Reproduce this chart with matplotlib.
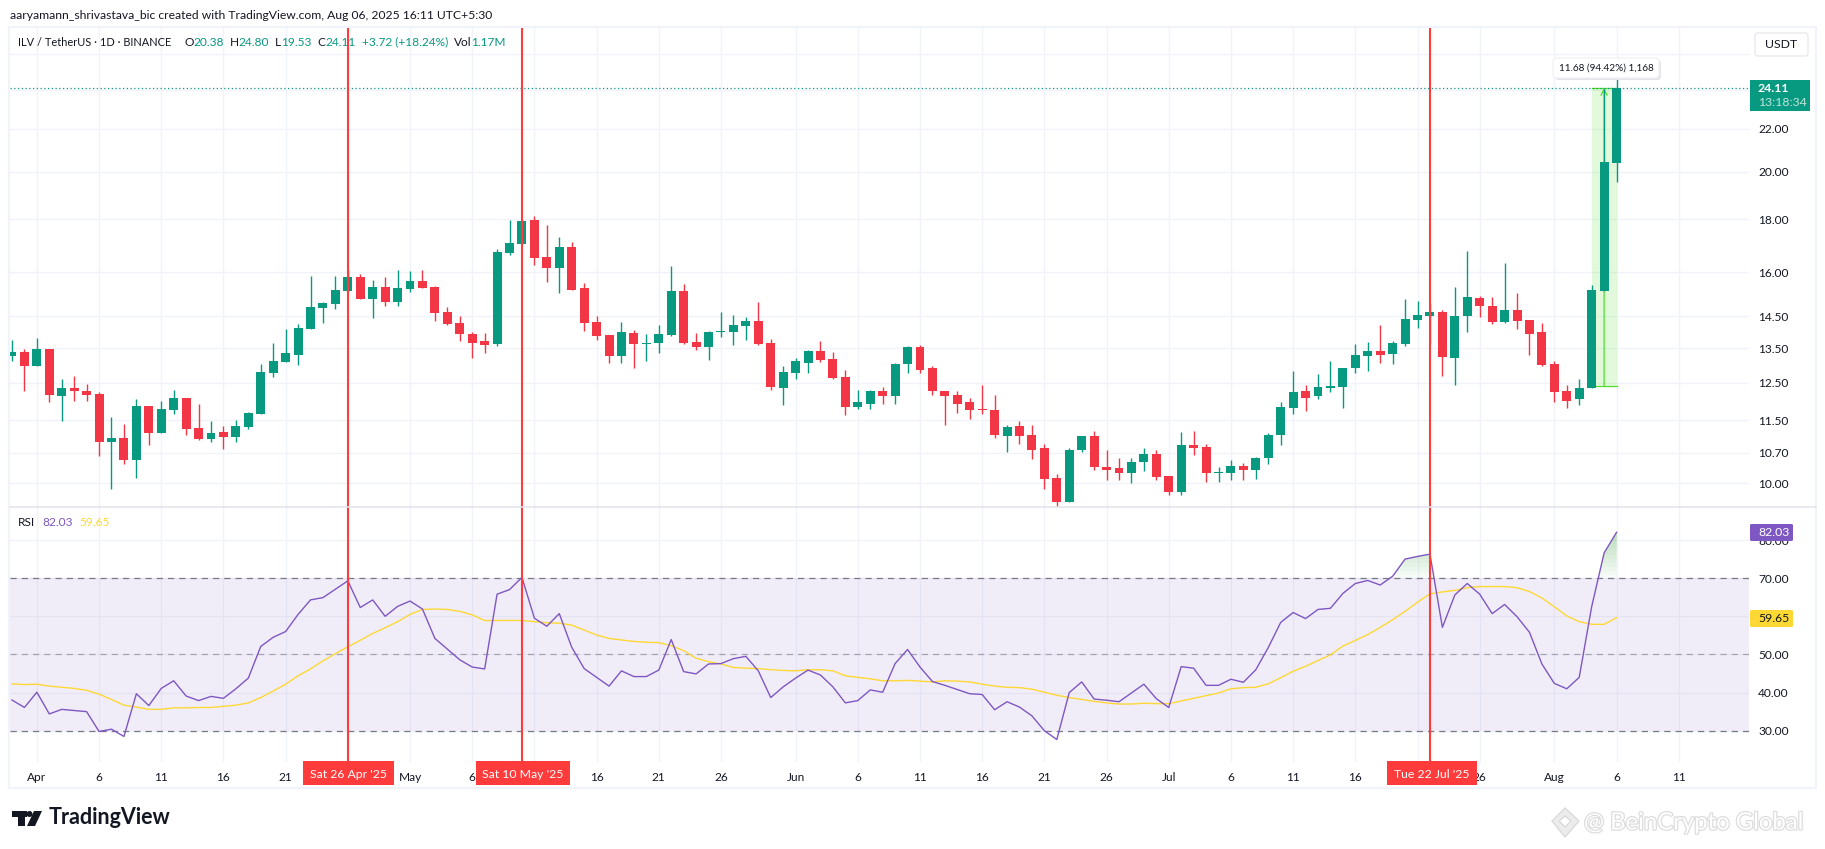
import matplotlib
matplotlib.use('Agg')
import matplotlib.pyplot as plt
import matplotlib.patheffects as pe
from matplotlib.patches import Rectangle, FancyBboxPatch, Polygon, Circle
from matplotlib.ticker import NullLocator
import numpy as np

plt.rcParams['font.family'] = ['Lato', 'DejaVu Sans']

# daily candles, 30 Mar to 6 Aug 2025
opens = [13.28,13.40,12.97,13.48,12.13,12.35,12.29,12.21,10.97,11.07,
         10.54,11.87,11.19,11.78,12.10,11.31,11.04,11.21,11.09,11.34,
         11.67,12.77,13.11,13.31,14.11,14.77,14.90,15.33,15.82,15.07,
         15.47,14.97,15.40,15.68,15.47,14.63,14.30,13.95,13.73,13.63,
         16.70,17.02,17.96,16.53,16.15,16.90,15.43,14.33,13.92,13.28,
         13.98,13.64,13.67,13.92,15.33,13.70,13.54,14.01,14.01,14.20,
         14.35,13.67,12.37,12.78,13.08,13.42,13.20,12.68,11.86,11.94,
         12.27,12.13,13.03,13.54,12.91,12.27,12.16,11.97,11.81,11.78,
         11.12,11.36,11.14,10.81,10.12,9.60,10.76,11.10,10.38,10.34,
         10.24,10.48,10.68,10.17,9.80,10.88,10.85,10.24,10.24,10.40,
         10.29,10.57,11.14,11.83,12.27,12.13,12.35,12.40,12.91,13.28,
         13.42,13.34,13.64,14.38,14.51,14.65,13.22,14.51,15.09,14.85,
         14.32,14.72,14.38,14.01,13.05,12.27,12.05,12.37,15.33,20.38]
highs = [13.76,13.48,13.82,13.48,12.60,12.71,12.48,12.24,11.58,11.41,
         12.07,11.87,12.02,12.32,12.10,11.93,11.48,11.36,11.50,11.72,
         13.05,13.66,14.11,14.24,15.85,14.96,15.87,16.07,15.93,15.72,
         15.82,16.07,16.03,16.07,15.50,14.80,14.50,14.00,13.98,16.85,
         17.96,18.00,18.12,17.75,17.28,17.10,15.60,14.50,13.92,14.32,
         14.07,13.95,14.23,16.20,15.57,13.98,14.04,14.65,14.55,14.48,
         14.96,13.79,12.97,13.22,13.45,13.73,13.40,12.88,12.32,12.32,
         12.40,13.08,13.57,13.60,12.97,12.27,12.27,12.08,12.45,12.16,
         11.39,11.48,11.39,10.92,10.22,10.81,11.10,11.24,10.76,10.59,
         10.57,10.81,10.78,10.17,11.20,11.24,10.92,10.36,10.54,10.47,
         10.61,11.19,11.97,12.85,12.45,12.74,13.12,12.93,13.63,13.70,
         14.22,13.73,15.06,14.99,14.92,14.72,15.46,16.77,15.16,15.12,
         16.31,15.26,14.38,14.29,13.14,12.45,12.60,15.53,24.05,24.80]
lows = [13.14,12.27,12.97,11.97,11.48,12.02,12.02,10.63,9.87,10.45,
        10.12,10.88,11.19,11.67,11.14,11.00,10.97,10.80,10.95,11.29,
        11.67,12.68,13.11,13.00,14.11,14.30,14.74,15.33,15.07,14.46,
        14.85,14.85,15.30,15.43,14.35,14.22,13.72,13.22,13.37,13.57,
        16.63,17.02,16.26,15.65,15.27,15.38,14.03,13.75,13.08,13.08,
        12.91,13.14,13.37,13.89,13.64,13.45,13.17,13.86,13.60,13.76,
        13.60,12.32,11.89,12.60,12.78,13.11,12.60,11.65,11.80,11.80,
        11.94,11.94,12.78,12.78,12.16,11.39,11.70,11.54,11.67,11.07,
        10.73,10.92,10.55,9.87,9.49,9.60,10.71,10.31,10.08,10.08,
        10.01,10.27,10.08,9.74,9.74,10.64,10.03,10.03,10.08,10.08,
        10.10,10.45,10.90,11.67,11.75,12.05,12.24,11.83,12.77,12.85,
        13.08,13.05,13.58,14.14,13.63,12.71,12.45,14.00,14.48,14.26,
        14.29,14.08,13.31,12.97,11.97,11.83,11.89,12.35,15.33,19.53]
closes = [13.40,12.97,13.48,12.16,12.35,12.27,12.18,10.97,11.07,10.54,
          11.87,11.19,11.79,12.10,11.29,11.04,11.19,11.09,11.36,11.70,
          12.80,13.14,13.37,14.14,14.80,14.93,15.37,15.82,15.07,15.47,
          14.97,15.43,15.68,15.43,14.60,14.26,13.95,13.66,13.60,16.73,
          17.05,17.92,16.49,16.15,16.90,15.38,14.30,13.87,13.28,14.01,
          13.64,13.67,13.95,15.33,13.67,13.54,14.01,14.04,14.23,14.35,
          13.64,12.40,12.80,13.14,13.42,13.17,12.65,11.86,11.97,12.27,
          12.13,13.05,13.54,12.88,12.29,12.13,11.94,11.78,11.78,11.14,
          11.34,11.12,10.78,10.10,9.60,10.76,11.10,10.36,10.31,10.24,
          10.48,10.68,10.15,9.80,10.88,10.81,10.24,10.26,10.40,10.29,
          10.59,11.14,11.86,12.24,12.08,12.40,12.42,12.93,13.31,13.42,
          13.31,13.67,14.42,14.55,14.65,13.25,14.51,15.12,14.82,14.32,
          14.72,14.35,13.95,13.02,12.24,12.02,12.37,15.36,20.43,24.11]

rsi = [38.05,36.1,40.1,34.4,35.6,35.3,35.0,29.8,30.4,28.5,
       39.7,36.6,41.1,43.1,39.1,37.9,39.0,38.5,41.0,43.8,
       52.1,54.5,56.0,60.5,64.3,64.9,67.1,69.3,62.3,64.3,
       60.0,62.6,64.0,61.9,54.2,51.4,48.6,46.7,46.2,65.8,
       67.0,70.2,59.5,57.4,60.7,51.9,46.3,44.0,41.7,45.7,
       44.2,44.2,45.9,53.9,45.5,44.9,47.5,47.6,48.9,49.5,
       45.7,38.7,41.5,43.8,45.9,44.6,41.5,37.3,37.9,40.7,
       40.1,47.6,51.3,46.7,42.9,41.9,40.8,39.7,39.5,35.5,
       37.6,36.2,33.9,30.0,27.7,40.0,42.8,38.3,38.0,37.6,
       39.9,42.2,38.4,36.1,46.8,46.4,41.9,41.9,43.5,42.7,
       46.0,51.8,58.4,61.0,59.4,61.8,62.1,66.0,68.6,69.4,
       68.2,70.5,75.0,75.7,76.3,57.1,65.6,68.6,65.8,60.7,
       63.1,59.9,55.8,47.5,42.4,41.0,44.0,62.5,76.6,82.03]
rsi_ma = [42.3,42.1,42.2,41.7,41.4,41.1,40.6,39.6,38.2,36.7,
          36.2,35.6,35.6,36.0,36.0,36.1,36.1,36.4,36.7,37.3,
          38.7,40.4,42.2,44.4,46.2,48.3,50.2,52.0,53.7,55.5,
          57.0,58.6,60.5,61.8,61.9,61.8,61.3,60.4,58.9,58.9,
          58.9,58.9,58.6,58.3,58.2,57.7,56.4,55.1,54.2,53.8,
          53.4,53.2,53.1,52.3,51.0,49.0,48.1,47.5,46.6,46.4,
          46.3,46.0,45.8,45.7,46.0,46.0,45.7,44.4,44.0,43.6,
          43.1,43.1,43.2,43.0,42.8,43.1,43.0,42.8,42.2,41.7,
          41.4,41.3,40.9,40.1,39.3,38.7,38.2,37.7,37.3,37.0,
          37.0,37.2,37.1,37.1,37.8,38.5,39.2,39.9,41.0,41.3,
          41.4,42.3,43.9,45.6,46.9,48.4,49.9,52.2,53.7,55.2,
          57.1,59.1,61.3,63.7,65.9,66.4,66.8,67.5,67.8,67.8,
          67.8,67.5,66.5,64.8,62.5,60.1,58.6,57.9,57.9,59.65]

# 24 and 26 sit behind the price boxes, so they only get a grid line
price_ticks = [10.0,10.7,11.5,12.5,13.5,14.5,16.0,18.0,20.0,22.0,24.0,26.0]
price_labels = ['10.00','10.70','11.50','12.50','13.50','14.50','16.00','18.00','20.00','22.00','','']
rsi_ticks = [30,40,50,60,70,80]
rsi_labels = ['30.00','40.00','50.00','','70.00','80.00']
# candle index of each label on the time axis, blank where a date flag covers it
time_pos = [2,7,12,17,22,27,32,37,42,47,52,57,63,68,73,78,83,88,93,98,103,108,113,118,124,129,134]
time_labels = ['Apr','6','11','16','21','','May','6','','16','21','26','Jun','6','11','16',
               '21','26','Jul','6','11','16','','26','Aug','6','11']
event_pos = [27,41,114]
event_labels = ["Sat 26 Apr '25","Sat 10 May '25","Tue 22 Jul '25"]
last_price = 24.11
measure_low = 12.43

GREEN = '#089981'
RED = '#F23645'
MARK = '#FF3B3B'
PURPLE = '#7E57C2'
YELLOW = '#FDD835'
GRID = '#F0F3FA'
TEXT = '#131722'

W, H = 1825, 849
fig = plt.figure(figsize=(W/100, H/100), dpi=100, facecolor='white')

def px_axes(left, top, right, bottom):
    return fig.add_axes([left/W, 1-bottom/H, (right-left)/W, (bottom-top)/H])

ax = px_axes(10, 27, 1749, 507)
ax2 = px_axes(10, 507, 1749, 762)
for a in (ax, ax2):
    a.set_xlim(-0.16, 139.65)
    for s in a.spines.values():
        s.set_visible(False)
    a.yaxis.tick_right()
    a.set_axisbelow(True)
    a.set_xticks(time_pos)
    a.grid(True, color=GRID, lw=1.0)
    a.tick_params(length=0, labelsize=8.6, labelcolor=TEXT, pad=6.5)

x = np.arange(len(closes))

# candle pane
ax.set_yscale('log')
ax.set_ylim(9.486, 27.60)
ax.set_yticks(price_ticks)
ax.set_yticklabels(price_labels)
ax.yaxis.set_minor_locator(NullLocator())
ax.tick_params(labelbottom=False)

ax.add_patch(Rectangle((127, measure_low), 2, last_price-measure_low, fc='#35E000', alpha=0.14, lw=0, zorder=1))
ax.plot([127,129], [last_price,last_price], color='#4FDD2C', lw=0.9, zorder=1.5)
ax.plot([127,129], [measure_low,measure_low], color='#4FDD2C', lw=0.9, zorder=1.5)
ax.annotate('', xy=(128,last_price), xytext=(128,measure_low),
            arrowprops=dict(arrowstyle='->', color='#4FDD2C', lw=0.9, shrinkA=0, shrinkB=0, mutation_scale=11), zorder=1.5)

colors = [GREEN if c >= o else RED for o, c in zip(opens, closes)]
ax.vlines(x, lows, highs, colors=colors, lw=1.0, zorder=3)
bottoms = np.minimum(opens, closes)
heights = np.maximum(np.abs(np.array(closes)-np.array(opens)), 0.02)
ax.bar(x, heights, bottom=bottoms, width=0.72, color=colors, lw=0, zorder=3)
ax.axhline(last_price, color=GREEN, ls=(0,(1,2)), lw=0.9, zorder=2)

# RSI pane
ax2.set_ylim(21.8, 88.66)
ax2.set_yticks(rsi_ticks)
ax2.set_yticklabels(rsi_labels)
ax2.set_xticklabels(time_labels)
ax2.tick_params(axis='x', pad=7.5)
ax2.axhspan(30, 70, color=PURPLE, alpha=0.1, lw=0, zorder=1)
ax2.axhline(70, color='#787B86', ls=(0,(5,4)), lw=0.9, zorder=2)
ax2.axhline(50, color='#787B86', ls=(0,(5,4)), lw=0.9, alpha=0.6, zorder=2)
ax2.axhline(30, color='#787B86', ls=(0,(5,4)), lw=0.9, zorder=2)
rsi_arr = np.array(rsi)
for lvl in range(70, 82):
    ax2.fill_between(x, lvl, rsi_arr, where=rsi_arr > lvl, interpolate=True, color='#4CAF50', alpha=0.035, lw=0, zorder=1.5)
ax2.plot(x, rsi_ma, color=YELLOW, lw=1.0, zorder=3)
ax2.plot(x, rsi, color=PURPLE, lw=1.0, zorder=3)

for pos in event_pos:
    ax.axvline(pos, color=MARK, lw=1.5, zorder=4)
    ax2.axvline(pos, color=MARK, lw=1.5, zorder=4)

# everything else is placed in pixels on a see-through layer
ov = fig.add_axes([0,0,1,1], facecolor='none', zorder=10)
ov.set_xlim(0, W)
ov.set_ylim(H, 0)
ov.axis('off')

ov.add_patch(Rectangle((9.5,27), 1807, 761, fc='none', ec=GRID, lw=1.5))
ov.plot([10,1816], [507,507], color='#E0E3EB', lw=1.1)

ov.text(10, 15, 'aaryamann_shrivastava_bic created with TradingView.com, Aug 06, 2025 16:11 UTC+5:30',
        fontsize=8.75, color=TEXT, va='center')

legend_bits = [(18,'ILV / TetherUS · 1D · BINANCE',TEXT,7.9),(185,'O',TEXT,8.6),(193,'20.38',GREEN,8.6),(230,'H',TEXT,8.6),
               (238,'24.80',GREEN,8.6),(275,'L',TEXT,8.6),(281,'19.53',GREEN,8.6),(317.5,'C',TEXT,8.6),(325,'24.11',GREEN,8.6),
               (362,'+3.72 (+18.24%)',GREEN,8.6),(454,'Vol',TEXT,8.6),(471,'1.17M',GREEN,8.6)]
for lx, s, c, fs in legend_bits:
    ov.text(lx, 42, s, fontsize=fs, color=c, va='center')
for lx, s, c in [(18,'RSI',TEXT),(42,'82.03',PURPLE),(79,'59.65',YELLOW)]:
    ov.text(lx, 522, s, fontsize=8.6, color=c, va='center')

# time axis flags
boxes = [(303,394),(476,570),(1387,1477)]
for (l, r), s in zip(boxes, event_labels):
    ov.add_patch(Rectangle((l,761), r-l, 24, fc=MARK, lw=0))
    ov.text((l+r)/2, 774, s, color='white', fontsize=8.8, ha='center', va='center')

# price scale boxes
ov.add_patch(FancyBboxPatch((1755,33), 53, 23, boxstyle='round,pad=0,rounding_size=3', fc='white', ec='#E8EAF0', lw=1))
ov.text(1781, 44.5, 'USDT', fontsize=8.8, color=TEXT, ha='center', va='center')
ov.add_patch(Rectangle((1750,80), 60, 31, fc=GREEN, lw=0))
ov.text(1758, 88.5, '24.11', color='white', fontsize=8.8, fontweight='bold', va='center')
ov.text(1758, 102.5, '13:18:34', color='#BFE6DC', fontsize=8.8, va='center')
ov.add_patch(FancyBboxPatch((1750,524), 43, 17, boxstyle='round,pad=0,rounding_size=1.5', fc=PURPLE, lw=0))
ov.text(1758, 532.5, '82.03', color='white', fontsize=8.8, va='center')
ov.add_patch(FancyBboxPatch((1750,610), 43, 17, boxstyle='round,pad=0,rounding_size=1.5', fc=YELLOW, lw=0))
ov.text(1758, 618.5, '59.65', color=TEXT, fontsize=8.8, va='center')

# measure tool label
ov.add_patch(FancyBboxPatch((1555,60), 106, 20, boxstyle='round,pad=0,rounding_size=4', fc='#E3E5EB', lw=0))
ov.add_patch(FancyBboxPatch((1553,58), 106, 20, boxstyle='round,pad=0,rounding_size=4', fc='white', ec='#EEF0F4', lw=0.8))
ov.text(1606, 68.5, '11.68 (94.42%) 1,168', color=TEXT, fontsize=7.2, ha='center', va='center')

# TradingView logo
ov.add_patch(Rectangle((12,811), 15, 6, fc=TEXT, lw=0))
ov.add_patch(Rectangle((18,811), 7, 15, fc=TEXT, lw=0))
ov.add_patch(Circle((29.5,814), 3, fc=TEXT, lw=0))
ov.add_patch(Polygon([(34,811),(42,811),(35,826),(27,826)], fc=TEXT, lw=0))
ov.text(48.5, 818, 'TradingView', color=TEXT, fontsize=15.5, fontweight='bold', va='center')

# watermark
ov.add_patch(Polygon([(1565,808),(1579,821),(1565,837),(1552,821)], fc='#ECECEC', ec='#DADADA', lw=1))
ov.add_patch(Polygon([(1565,816),(1571,821),(1565,827),(1559,821)], fc='white', ec='#DADADA', lw=1))
ov.text(1584, 823, '@ BeinCrypto Global', color='white', fontsize=17.2, va='center',
        path_effects=[pe.withStroke(linewidth=1.8, foreground='#DDDDDD')])

fig.savefig('out.png', dpi=100)
